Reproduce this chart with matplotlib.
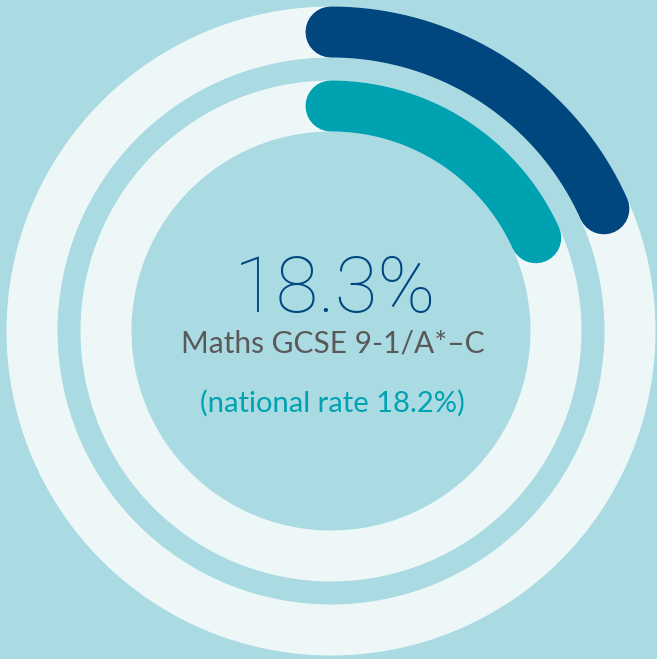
import numpy as np
import matplotlib
matplotlib.use('Agg')
import matplotlib.pyplot as plt
from matplotlib.patches import Wedge

# values
labels = ['School', 'National']
rates = [18.3, 18.2]
colours = ['#00467F', '#00A2B2']
headline = '18.3%'
subtitle = 'Maths GCSE 9-1/A*\u2013C'
note = '(national rate 18.2%)'

bg = '#AADBE2'
track = '#EEF7F8'

fig = plt.figure(figsize=(6.57, 6.59), dpi=100)
fig.patch.set_facecolor(bg)
ax = fig.add_axes([0, 0, 1, 1])
ax.set_facecolor(bg)
ax.set_xlim(0, 657)
ax.set_ylim(659, 0)
ax.set_aspect('equal')
ax.axis('off')

# ring geometry in pixels
cx, cy = 331, 331
radii = [299, 225]
width = 51
lw_pt = width * 72 / 100

for r, pct, col in zip(radii, rates, colours):
    # light track
    ax.add_patch(Wedge((cx, cy), r + width / 2, 0, 360, width=width,
                       facecolor=track, edgecolor='none'))
    # progress arc, clockwise from 12 o'clock
    theta = np.linspace(0, 2 * np.pi * pct / 100, 200)
    xs = cx + r * np.sin(theta)
    ys = cy - r * np.cos(theta)
    ax.plot(xs, ys, color=col, lw=lw_pt, solid_capstyle='round')

ax.text(cx + 4, 312, headline, color='#00467F', fontsize=56,
        family='Roboto', fontweight='light', ha='center', va='baseline')
ax.text(cx + 2, 353, subtitle, color='#595959', fontsize=21.5,
        family='Lato', ha='center', va='baseline')
ax.text(cx + 1, 412, note, color='#00A2B2', fontsize=21,
        family='Lato', ha='center', va='baseline')

fig.savefig('out.png', dpi=100, facecolor=bg)
